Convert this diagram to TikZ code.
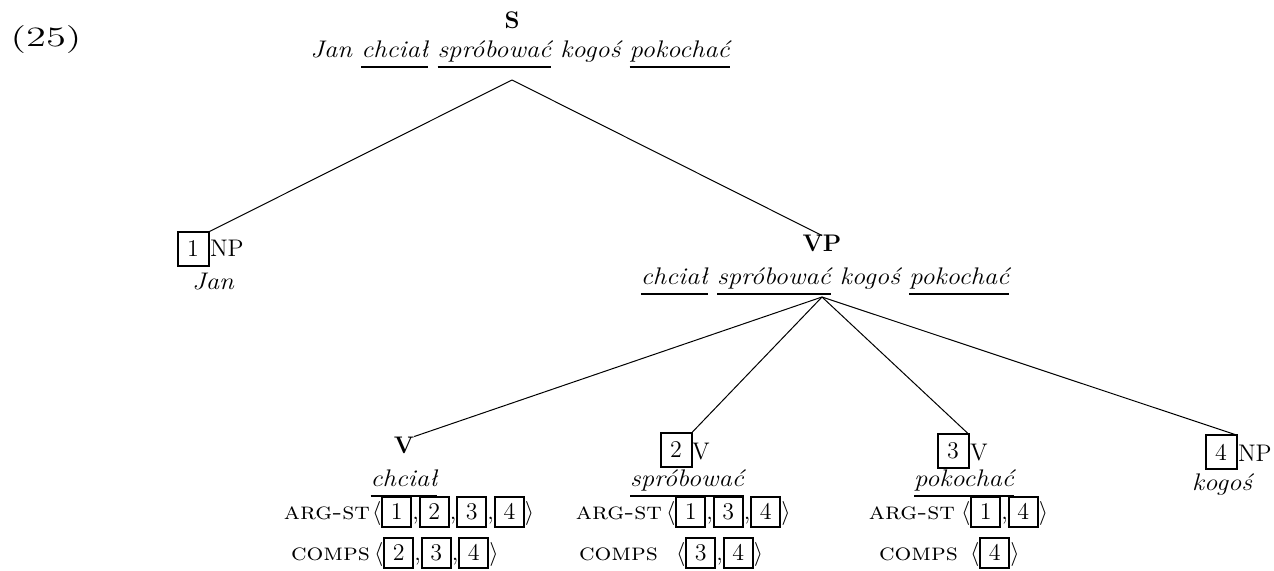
\documentclass[tikz,border=0pt]{standalone}
\usepackage{fontspec}
\usepackage{graphicx}
\newcommand\tagbox[1]{{\setlength\fboxrule{1pt}\setlength\fboxsep{0pt}\fbox{\makebox[13.5pt]{\rule[-3.5pt]{0pt}{14pt}#1}}}}
\newcommand\myul[1]{{\setbox0\hbox{#1}\rlap{\rule[-5pt]{\wd0}{1pt}}\box0\relax}}
\newcommand\wide[1]{\scalebox{1.11}[1]{#1}}
\newcommand\fw[1]{\scalebox{1.1}[1]{#1}}
\begin{document}
\begin{tikzpicture}[x=0.5pt,y=-0.5pt,
  font=\fontsize{12}{14}\selectfont,
  every node/.style={inner sep=0pt,outer sep=0pt},
  edge/.style={line width=0.5pt},
  tagn/.style={draw,line width=1pt,minimum width=15.5pt,minimum height=17pt,inner sep=0pt},
  catb/.style={font=\fontsize{12}{14}\selectfont\bfseries},
  word/.style={font=\fontsize{12}{14}\selectfont\itshape},
  feat/.style={font=\fontsize{12}{14}\selectfont\scshape}]
\useasboundingbox (0,0) rectangle (1274,571);
% example number
\node[anchor=base,font=\fontsize{14}{16}\selectfont] (ex) at (46,47) {\scalebox{1.45}[1]{(25)}};
% S
\node[catb,anchor=base] (S) at (512,29) {S};
\node[word,anchor=base] (Ss) at (520,58) {\wide{Jan \myul{chciał} \myul{spróbować} kogoś \myul{pokochać}}};
\coordinate (Sb) at (512,80);
% 1 NP
\node[tagn] (t1) at (193,249) {1};
\node[anchor=base west] (np1) at (210,257) {NP};
\node[word,anchor=base] (jan) at (213,290) {\wide{Jan}};
% VP
\node[catb,anchor=base] (VP) at (822,252) {VP};
\node[word,anchor=base] (VPs) at (825,285) {\wide{\myul{chciał} \myul{spróbować} kogoś \myul{pokochać}}};
\coordinate (VPb) at (822,297);
% V
\node[catb,anchor=base] (V) at (404,453) {V};
\node[word,anchor=base] (w1) at (404,487) {\wide{\myul{chciał}}};
\node[feat,anchor=base east] (a1l) at (370,519) {\fw{arg-st}};
\node[anchor=base west] (a1v) at (372,519) {$\big\langle$\tagbox{1},\tagbox{2},\tagbox{3},\tagbox{4}$\big\rangle$};
\node[feat,anchor=base east] (c1l) at (370,560) {\fw{comps}};
\node[anchor=base west] (c1v) at (374,560) {$\big\langle$\tagbox{2},\tagbox{3},\tagbox{4}$\big\rangle$};
% 2 V
\node[tagn] (t2) at (676,450) {2};
\node[anchor=base west] (v2) at (692,459) {V};
\node[word,anchor=base] (w2) at (687,487) {\wide{\myul{spróbować}}};
\node[feat,anchor=base east] (a2l) at (662,519) {\fw{arg-st}};
\node[anchor=base west] (a2v) at (666,519) {$\big\langle$\tagbox{1},\tagbox{3},\tagbox{4}$\big\rangle$};
\node[feat,anchor=base east] (c2l) at (658,560) {\fw{comps}};
\node[anchor=base west] (c2v) at (676,560) {$\big\langle$\tagbox{3},\tagbox{4}$\big\rangle$};
% 3 V
\node[tagn] (t3) at (953,451) {3};
\node[anchor=base west] (v3) at (970,460) {V};
\node[word,anchor=base] (w3) at (964,487) {\wide{\myul{pokochać}}};
\node[feat,anchor=base east] (a3l) at (955,519) {\fw{arg-st}};
\node[anchor=base west] (a3v) at (961,519) {$\big\langle$\tagbox{1},\tagbox{4}$\big\rangle$};
\node[feat,anchor=base east] (c3l) at (958,560) {\fw{comps}};
\node[anchor=base west] (c3v) at (970,560) {$\big\langle$\tagbox{4}$\big\rangle$};
% 4 NP
\node[tagn] (t4) at (1221,452) {4};
\node[anchor=base west] (np4) at (1238,461) {NP};
\node[word,anchor=base] (w4) at (1222,490) {\wide{kogoś}};
% edges
\draw[edge] (Sb) -- (t1.north east);
\draw[edge] (Sb) -- (VP.north);
\draw[edge] (VPb) -- (V.north east);
\draw[edge] (VPb) -- (t2.north east);
\draw[edge] (VPb) -- (t3.north east);
\draw[edge] (VPb) -- (t4.north east);
\end{tikzpicture}
\end{document}
